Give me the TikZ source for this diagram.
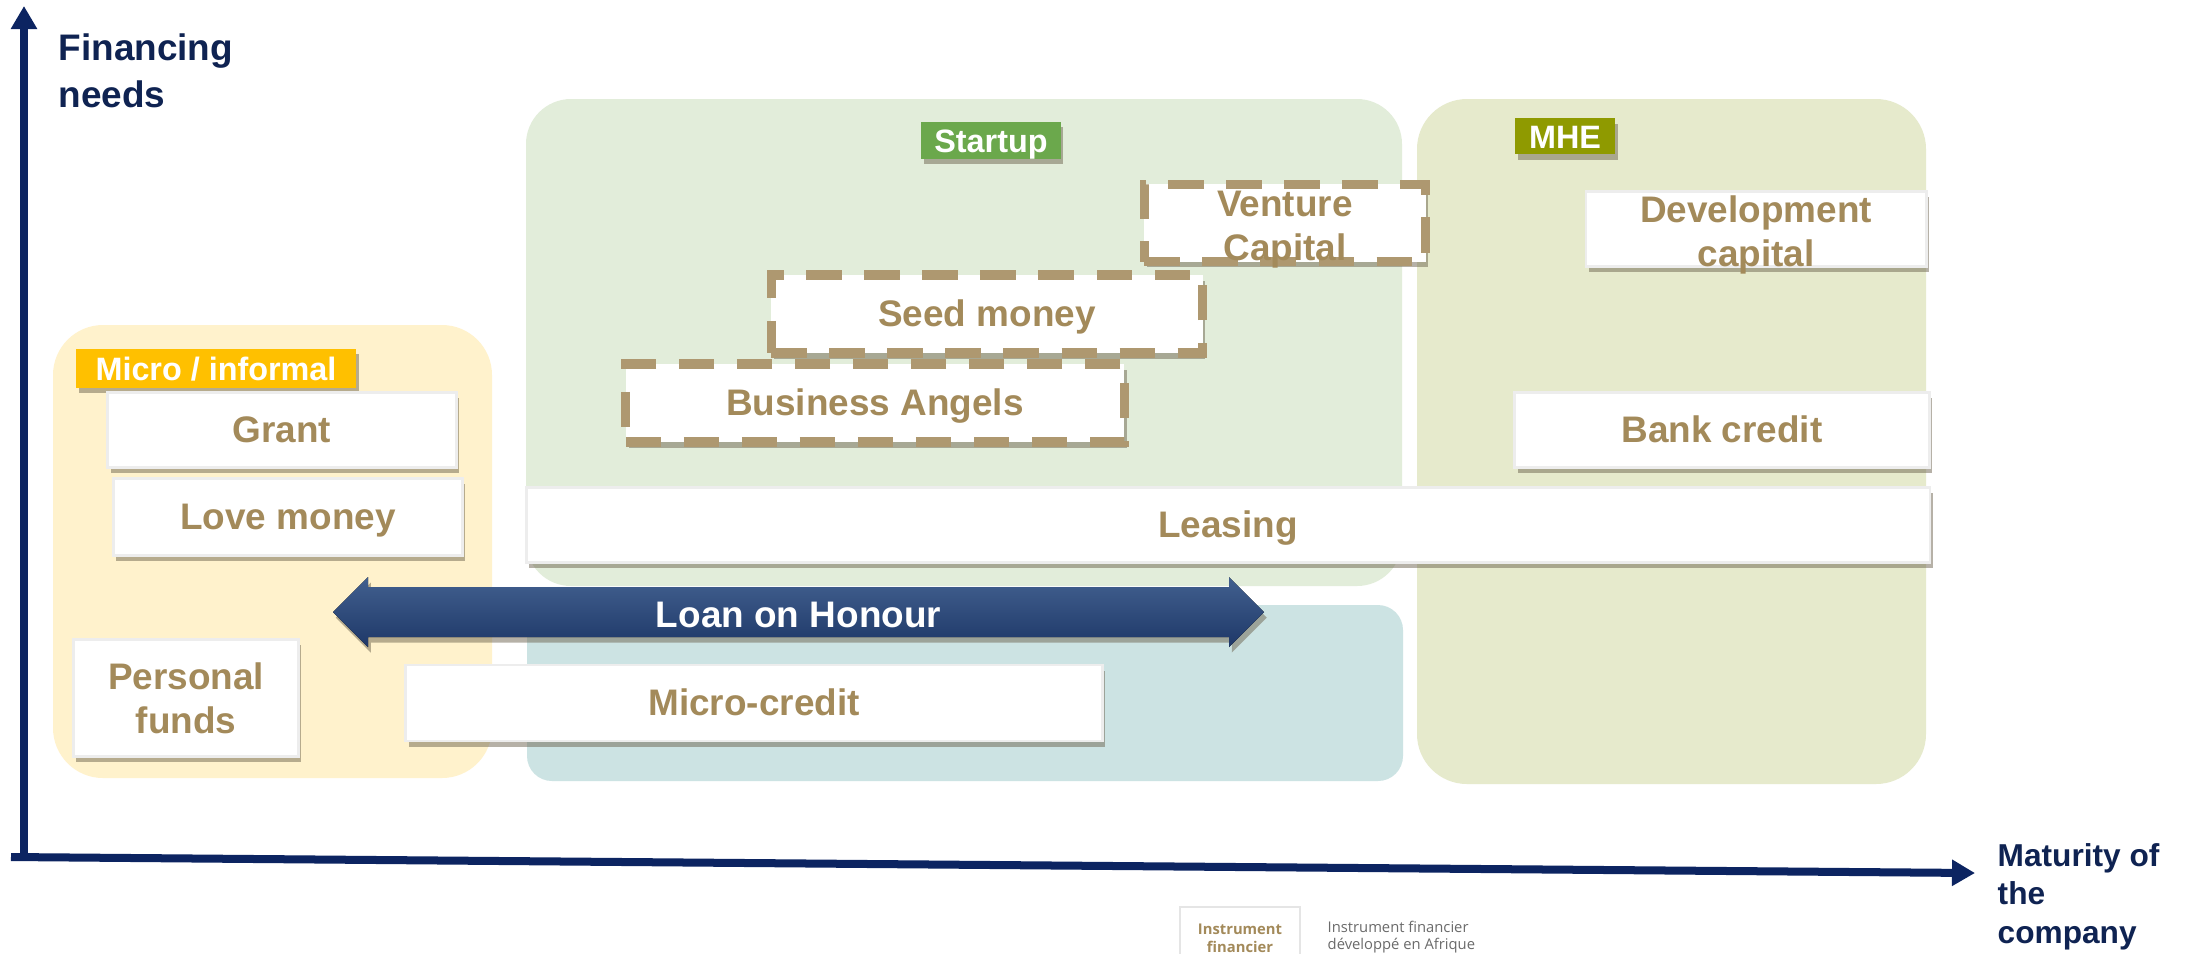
\documentclass[tikz,border=0pt]{standalone}
\usepackage{fontspec}
\setmainfont{Liberation Sans}
\newfontfamily\legendfont{Open Sans}
\usetikzlibrary{arrows.meta, positioning, calc, shadows}
\definecolor{axisnavy}{HTML}{0C2461}
\definecolor{axistext}{HTML}{0F2352}
\definecolor{microbg}{HTML}{FFF2CC}
\definecolor{startbg}{HTML}{E2EDDA}
\definecolor{creditbg}{HTML}{CCE3E3}
\definecolor{mhebg}{HTML}{E6EACC}
\definecolor{microtag}{HTML}{FFC000}
\definecolor{starttag}{HTML}{6BA84C}
\definecolor{mhetag}{HTML}{8F9A00}
\definecolor{instrgold}{HTML}{A38A5A}
\definecolor{dashgold}{HTML}{AE9870}
\definecolor{shadowbrown}{HTML}{6E6550}
\definecolor{loantop}{HTML}{42608F}
\definecolor{loanbot}{HTML}{1E3868}
\definecolor{legendgray}{HTML}{6B6B6B}

\begin{document}
\begin{tikzpicture}[x=0.01cm, y=-0.01cm, >={Triangle[width=0.25cm, length=0.23cm]},
  boxshadow/.style={drop shadow={shadow xshift=0.8pt, shadow yshift=-1.6pt, opacity=0.5, fill=shadowbrown}},
  oneline/.style={text height=0.72em, text depth=0pt},
  instr/.style={fill=white, draw=black!7, line width=0.8pt, text=instrgold, align=center,
    font=\fontsize{10.5}{12.5}\selectfont\bfseries, inner sep=0pt, boxshadow},
  newinstr/.style={instr, draw=dashgold, line width=2.6pt, dash pattern=on 10pt off 6.5pt},
  instrtext/.style={text=instrgold, align=center, font=\fontsize{10.5}{12.5}\selectfont\bfseries, inner sep=0pt},
  tag/.style={text=white, font=\fontsize{9.2}{11}\selectfont\bfseries, inner sep=0pt, oneline, boxshadow},
  axislabel/.style={text=axistext, align=left, inner sep=0pt, anchor=north west}]

\clip (0,0) rectangle (2187,953);
\fill[white] (0,0) rectangle (2187,953);

% --- Stage regions ---
\fill[microbg, rounded corners=0.5cm] (53,325) rectangle (492,778);
\fill[startbg, rounded corners=0.45cm] (526,99) rectangle (1402,586);
\fill[creditbg, rounded corners=0.25cm] (527,605) rectangle (1403,781);
\fill[mhebg, rounded corners=0.5cm] (1417,99) rectangle (1926,784);

% Stage tags
\node[tag, fill=microtag, minimum width=2.80cm, minimum height=0.39cm] (microtag) at (216,368) {Micro / informal};
\node[tag, fill=starttag, minimum width=1.39cm, minimum height=0.37cm] (starttag) at (991,140) {Startup};
\node[tag, fill=mhetag, minimum width=1.00cm, minimum height=0.36cm] (mhetag) at (1565,136) {MHE};

% --- Micro / informal instruments ---
\node[instr, oneline, minimum width=3.48cm, minimum height=0.75cm] (grant) at (282,430) {Grant};
\node[instr, oneline, minimum width=3.49cm, minimum height=0.77cm] (love) at (288,517) {Love money};
\node[instr, minimum width=2.25cm, minimum height=1.17cm] (personal) at (186,698) {Personal\\funds};

% --- Startup instruments ---
\node[newinstr, oneline, minimum width=4.98cm, minimum height=0.78cm] (angels) at (875,403) {Business Angels};
\node[newinstr, oneline, minimum width=4.31cm, minimum height=0.78cm] (seed) at (987,314) {Seed money};
\node[newinstr, minimum width=2.81cm, minimum height=0.77cm] (venture) at (1285,223) {};
\node[instrtext] (venturetext) at (1285,230) {Venture\\Capital};
\node[instr, oneline, minimum width=6.96cm, minimum height=0.76cm] (microcredit) at (754,703) {Micro-credit};

% --- MHE instruments ---
\node[instr, minimum width=3.40cm, minimum height=0.75cm] (devcap) at (1756,229) {};
\node[instrtext] (devcaptext) at (1756,235) {Development\\capital};
\node[instr, oneline, minimum width=4.14cm, minimum height=0.75cm] (bank) at (1722,430) {Bank credit};
\node[instr, oneline, minimum width=14.03cm, minimum height=0.75cm] (leasing) at (1228,525) {Leasing};

% --- Loan on Honour (double arrow) ---
\coordinate (lohL) at (333,612);
\coordinate (lohR) at (1264,612);
\fill[top color=loantop, bottom color=loanbot, boxshadow]
  (lohL) -- ($(lohL)+(35,-35)$) -- ($(lohL)+(35,-25)$) -- ($(lohR)+(-35,-25)$)
  -- ($(lohR)+(-35,-35)$) -- (lohR) -- ($(lohR)+(-35,35)$) -- ($(lohR)+(-35,25)$)
  -- ($(lohL)+(35,25)$) -- ($(lohL)+(35,35)$) -- cycle;
\node[text=white, font=\fontsize{10.5}{12.5}\selectfont\bfseries, inner sep=0pt, oneline] (loan)
  at ($(lohL)!0.5!(lohR)+(0,3)$) {Loan on Honour};

% --- Axes ---
\coordinate (origin) at (24,860);
\coordinate (ytip) at (24,6);
\coordinate (xstart) at (11,857);
\coordinate (xtip) at (1975,873);
\draw[axisnavy, line width=0.08cm, ->] (origin) -- (ytip);
\draw[axisnavy, line width=0.08cm, ->] (xstart) -- (xtip);
\node[axislabel, font=\fontsize{10.5}{13.4}\selectfont\bfseries] (ylabel) at (58,33) {Financing\\needs};
\node[axislabel, font=\fontsize{9}{10.9}\selectfont\bfseries] (xlabel) at (1997,843) {Maturity of\\the\\company};

% --- Legend (at the bottom edge) ---
\node[fill=white, draw=black!10, line width=0.6pt, minimum width=1.2cm, minimum height=0.62cm,
  text=instrgold, align=center, inner sep=0pt, font=\legendfont\fontsize{4.2}{5.0}\selectfont\bfseries]
  (legendbox) at (1240,938) {Instrument\\financier};
\node[anchor=west, text=legendgray, align=left, inner sep=0pt,
  font=\legendfont\fontsize{4.2}{5.0}\selectfont] (legendtext) at (1327,937)
  {Instrument financier\\développé en Afrique};

\end{tikzpicture}
\end{document}
